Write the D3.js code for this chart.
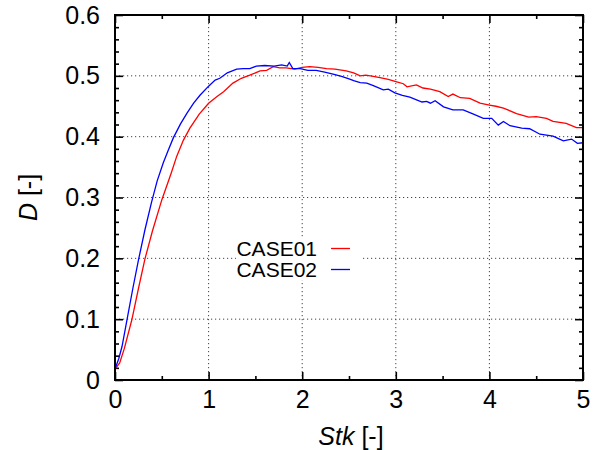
<!DOCTYPE html>
<html>
  <head>
    <title> D vs Stk </title>
    <script src="https://cdn.jsdelivr.net/npm/d3@7"></script>
    <style>
      body { margin: 0; background: white; }
      text {
          font-family: "Liberation Sans", Arial, sans-serif;
          fill: black;
          }
      .tick text { font-size: 25px; }
      .axis path { display: none; }
      .axis line { stroke: black; stroke-width: 1.6; }
      .grid line { stroke: #444; stroke-width: 1; stroke-dasharray: 1.2,2.8; }
    </style>
  </head>
  <body>
    <svg id="main" width="603" height="450"></svg>
    <script>

        // CASE01 (red)
        var case01X = [0, 0.05, 0.1, 0.18, 0.25, 0.32, 0.4, 0.5, 0.6, 0.66, 0.73, 0.8, 0.9, 1.0, 1.09, 1.16, 1.26, 1.35, 1.44, 1.55, 1.62, 1.69, 1.76, 1.83, 1.92, 2.0, 2.08, 2.17, 2.26, 2.35, 2.47, 2.55, 2.62, 2.68, 2.76, 2.83, 2.92, 3.01, 3.08, 3.12, 3.22, 3.29, 3.37, 3.47, 3.56, 3.61, 3.69, 3.79, 3.9, 4.0, 4.07, 4.15, 4.29, 4.42, 4.5, 4.61, 4.68, 4.82, 4.93, 5.0];
        var case01Y = [0.018, 0.028, 0.052, 0.099, 0.15, 0.199, 0.245, 0.296, 0.34, 0.368, 0.394, 0.414, 0.437, 0.455, 0.466, 0.474, 0.488, 0.496, 0.501, 0.508, 0.509, 0.515, 0.513, 0.513, 0.511, 0.514, 0.515, 0.514, 0.512, 0.511, 0.508, 0.505, 0.50, 0.501, 0.499, 0.497, 0.494, 0.49, 0.487, 0.482, 0.485, 0.48, 0.478, 0.474, 0.466, 0.47, 0.464, 0.463, 0.455, 0.452, 0.45, 0.447, 0.438, 0.432, 0.433, 0.43, 0.425, 0.422, 0.415, 0.415];

        // CASE02 (blue)
        var case02X = [0, 0.04, 0.075, 0.128, 0.19, 0.253, 0.32, 0.39, 0.45, 0.516, 0.57, 0.623, 0.7, 0.766, 0.84, 0.908, 1.0, 1.07, 1.12, 1.2, 1.3, 1.37, 1.44, 1.51, 1.6, 1.7, 1.78, 1.84, 1.862, 1.9, 1.98, 2.06, 2.15, 2.24, 2.33, 2.42, 2.5, 2.55, 2.62, 2.69, 2.76, 2.866, 2.92, 2.99, 3.07, 3.15, 3.28, 3.33, 3.37, 3.42, 3.51, 3.61, 3.72, 3.83, 3.935, 4.025, 4.095, 4.15, 4.22, 4.345, 4.43, 4.54, 4.68, 4.79, 4.878, 4.94, 5.0];
        var case02Y = [0.018, 0.035, 0.055, 0.099, 0.15, 0.199, 0.247, 0.292, 0.327, 0.357, 0.378, 0.398, 0.421, 0.438, 0.455, 0.468, 0.483, 0.493, 0.496, 0.505, 0.511, 0.512, 0.512, 0.516, 0.517, 0.516, 0.518, 0.516, 0.522, 0.512, 0.512, 0.509, 0.509, 0.506, 0.503, 0.499, 0.495, 0.492, 0.489, 0.488, 0.484, 0.477, 0.478, 0.472, 0.468, 0.465, 0.457, 0.458, 0.455, 0.459, 0.449, 0.444, 0.444, 0.437, 0.43, 0.43, 0.419, 0.425, 0.418, 0.414, 0.413, 0.404, 0.401, 0.393, 0.396, 0.389, 0.39];

        var xTicks = [0, 1, 2, 3, 4, 5];
        var xMinor = [0.5, 1.5, 2.5, 3.5, 4.5];
        var yTicks = [0, 0.1, 0.2, 0.3, 0.4, 0.5, 0.6];
        var yMinor = [0.02, 0.04, 0.06, 0.08, 0.12, 0.14, 0.16, 0.18, 0.22, 0.24, 0.26, 0.28, 0.32, 0.34, 0.36, 0.38, 0.42, 0.44, 0.46, 0.48, 0.52, 0.54, 0.56, 0.58];

        var seriesNames = ['CASE01', 'CASE02'];
        var seriesColors = ['#ff0000', '#0000ff'];

        var L = 115, R = 583, T = 15, B = 380;
        var svg = d3.select('#main');

        var x = d3.scaleLinear().domain([0, 5]).range([L, R]);
        var y = d3.scaleLinear().domain([0, 0.6]).range([B, T]);

        // grid
        svg.append('g').attr('class', 'grid')
          .selectAll('line').data(xTicks.slice(1, -1)).enter().append('line')
          .attr('x1', function(d){ return x(d); }).attr('x2', function(d){ return x(d); })
          .attr('y1', T).attr('y2', B);
        svg.append('g').attr('class', 'grid')
          .selectAll('line').data(yTicks.slice(1, -1)).enter().append('line')
          .attr('y1', function(d){ return y(d); }).attr('y2', function(d){ return y(d); })
          .attr('x1', L).attr('x2', R);

        // axes, ticks pointing inward
        var fmtY = function(d){ return d === 0 ? '0' : d.toFixed(1); };
        svg.append('g').attr('class', 'axis').attr('transform', 'translate(0,' + B + ')')
          .call(d3.axisBottom(x).tickValues(xTicks).tickSize(-8).tickPadding(10).tickFormat(d3.format('d')));
        svg.append('g').attr('class', 'axis').attr('transform', 'translate(0,' + B + ')')
          .call(d3.axisBottom(x).tickValues(xMinor).tickSize(-4).tickFormat(''));
        svg.append('g').attr('class', 'axis').attr('transform', 'translate(0,' + T + ')')
          .call(d3.axisTop(x).tickValues(xTicks).tickSize(-8).tickFormat(''));
        svg.append('g').attr('class', 'axis').attr('transform', 'translate(0,' + T + ')')
          .call(d3.axisTop(x).tickValues(xMinor).tickSize(-4).tickFormat(''));
        svg.append('g').attr('class', 'axis').attr('transform', 'translate(' + L + ',0)')
          .call(d3.axisLeft(y).tickValues(yTicks).tickSize(-8).tickPadding(15).tickFormat(fmtY));
        svg.append('g').attr('class', 'axis').attr('transform', 'translate(' + L + ',0)')
          .call(d3.axisLeft(y).tickValues(yMinor).tickSize(-4).tickFormat(''));
        svg.append('g').attr('class', 'axis').attr('transform', 'translate(' + R + ',0)')
          .call(d3.axisRight(y).tickValues(yTicks).tickSize(-8).tickFormat(''));
        svg.append('g').attr('class', 'axis').attr('transform', 'translate(' + R + ',0)')
          .call(d3.axisRight(y).tickValues(yMinor).tickSize(-4).tickFormat(''));

        // legend background hides the grid
        svg.append('rect').attr('x', 236).attr('y', 237).attr('width', 126).attr('height', 43).attr('fill', 'white');

        // curves
        var line = d3.line()
          .x(function(d){ return x(d[0]); })
          .y(function(d){ return y(d[1]); });
        var series = [d3.zip(case01X, case01Y), d3.zip(case02X, case02Y)];
        svg.append('g').selectAll('path').data(series).enter().append('path')
          .attr('d', line)
          .attr('fill', 'none')
          .attr('stroke', function(d, i){ return seriesColors[i]; })
          .attr('stroke-width', 1.3);

        // frame
        svg.append('rect').attr('x', L).attr('y', T).attr('width', R - L).attr('height', B - T)
          .attr('fill', 'none').attr('stroke', 'black').attr('stroke-width', 2);

        // legend
        var leg = svg.append('g').selectAll('g').data(seriesNames).enter().append('g')
          .attr('transform', function(d, i){ return 'translate(0,' + (248.5 + i * 21) + ')'; });
        leg.append('text').attr('x', 317).attr('y', 0).attr('dy', '0.35em')
          .attr('text-anchor', 'end').style('font-size', '21px').text(function(d){ return d; });
        leg.append('line').attr('x1', 331).attr('x2', 350).attr('y1', 0).attr('y2', 0)
          .attr('stroke', function(d, i){ return seriesColors[i]; }).attr('stroke-width', 1.3);

        // axis titles
        var xt = svg.append('text').attr('x', 351).attr('y', 445).attr('text-anchor', 'middle').style('font-size', '25px');
        xt.append('tspan').style('font-style', 'italic').text('Stk');
        xt.append('tspan').text(' [-]');
        var yt = svg.append('text').attr('transform', 'translate(37,197.5) rotate(-90)')
          .attr('text-anchor', 'middle').style('font-size', '25px');
        yt.append('tspan').style('font-style', 'italic').text('D');
        yt.append('tspan').text(' [-]');

      </script>
  </body>
</html>
